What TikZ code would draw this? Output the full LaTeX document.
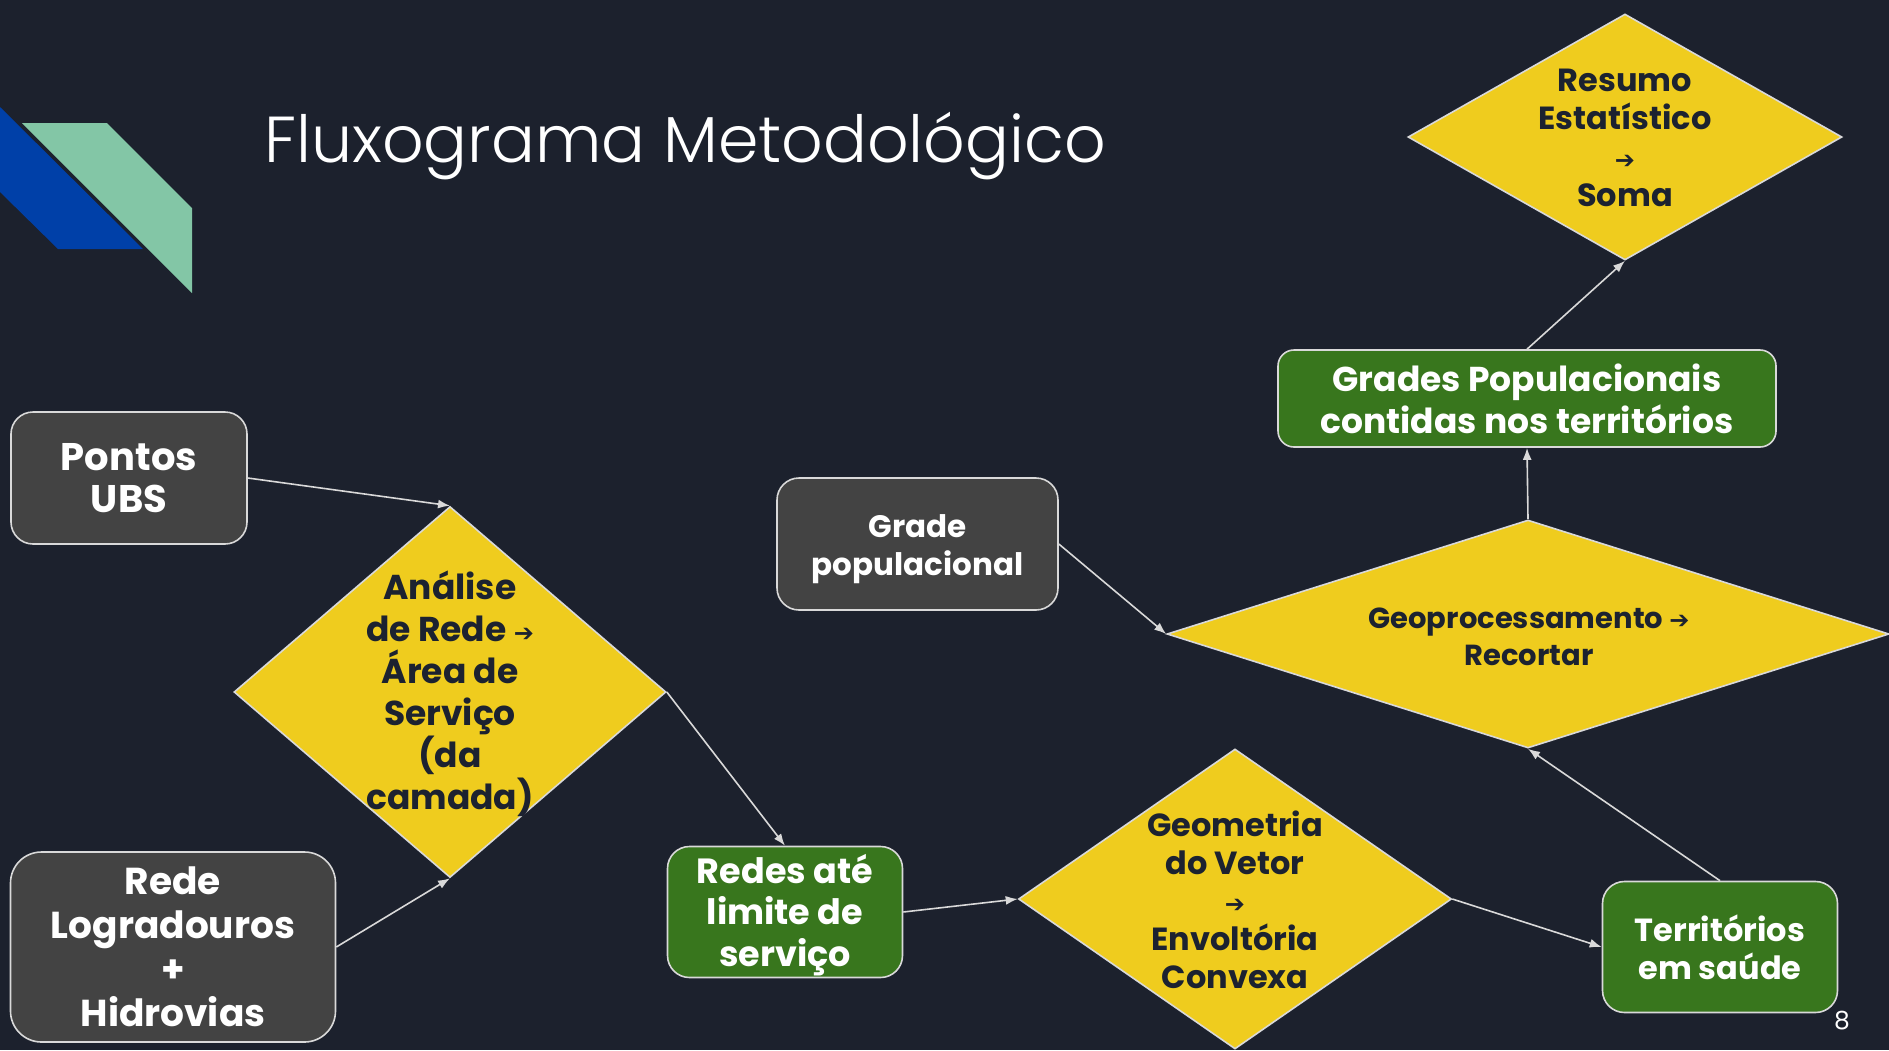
\documentclass[tikz,border=0pt]{standalone}
\usepackage{fontspec}
\usetikzlibrary{shapes.geometric,arrows.meta}
\setmainfont{Poppins}
\IfFontExistsTF{Poppins Light}{\newfontfamily\titlefont{Poppins Light}}{\newfontfamily\titlefont{Poppins}}
\newfontfamily\arrowfont{DejaVu Sans}
\newcommand\myarrow{{\arrowfont\fontsize{24}{24}\selectfont ➔}}
\definecolor{bg}{HTML}{1C212D}
\definecolor{yel}{HTML}{EFCC1E}
\definecolor{boxgreen}{HTML}{38761D}
\definecolor{boxgray}{HTML}{434343}
\definecolor{lineC}{HTML}{D9D9D9}
\definecolor{darktext}{HTML}{1C2230}
\definecolor{logoblue}{HTML}{0040A8}
\definecolor{logogreen}{HTML}{83C6A6}
\begin{document}
\begin{tikzpicture}[x=1pt,y=-1pt,
  box/.style={draw=lineC, line width=1.6pt, align=center, text=white, inner sep=0pt},
  graybox/.style={box, fill=boxgray},
  greenbox/.style={box, fill=boxgreen},
  dia/.style={diamond, draw=lineC, line width=1.6pt, fill=yel, inner sep=0pt},
  dtext/.style={align=center, text=darktext, inner sep=0pt},
  conn/.style={draw=lineC, line width=1.6pt, -{Latex[length=12pt,width=9pt]}}]
\fill[bg] (0,0) rectangle (1889,1050);
\useasboundingbox (0,0) rectangle (1889,1050);
% logo
\fill[logoblue] (0,107) -- (143,249) -- (58,249) -- (0,192) -- cycle;
\fill[logogreen] (22,123) -- (107,123) -- (192,208) -- (192,293) -- cycle;
% title
\node[anchor=base west, inner sep=0pt, text=white, font=\titlefont\fontsize{65}{65}\selectfont] (title) at (264,162) {Fluxograma Metodológico};
% boxes
\node[graybox, minimum width=236pt, minimum height=132pt, rounded corners=22pt, font=\bfseries\fontsize{38.5}{42}\selectfont] (pontos) at (129,478) {Pontos\\UBS};
\node[graybox, minimum width=325pt, minimum height=190pt, rounded corners=31pt, font=\bfseries\fontsize{37.5}{44}\selectfont] (rede) at (173,947) {Rede\\Logradouros\\+\\Hidrovias};
\node[greenbox, minimum width=235pt, minimum height=131pt, rounded corners=22pt] (redes) at (785,912) {};
\node[text=white, align=center, inner sep=0pt, font=\bfseries\fontsize{35}{41.5}\selectfont] (redesT) at (785,915) {Redes até\\limite de\\serviço};
\node[greenbox, minimum width=235pt, minimum height=131pt, rounded corners=22pt, font=\bfseries\fontsize{32}{38}\selectfont] (terr) at (1720,947) {Territórios\\em saúde};
\node[graybox, minimum width=281pt, minimum height=132pt, rounded corners=22pt] (grade) at (917.5,544) {};
\node[text=white, align=center, inner sep=0pt, font=\bfseries\fontsize{31}{38}\selectfont] (gradeT) at (917.5,549) {Grade\\populacional};
\node[greenbox, minimum width=498pt, minimum height=97pt, rounded corners=16pt, font=\bfseries\fontsize{34.5}{42}\selectfont] (gpop) at (1527,398.5) {Grades Populacionais\\contidas nos territórios};
% diamonds
\node[dia, minimum width=432pt, minimum height=371pt] (analise) at (450,692) {};
\node[dtext, font=\bfseries\fontsize{34.5}{42}\selectfont] (analiseT) at (450,694) {Análise\\de Rede \myarrow\\Área de\\Serviço\\(da\\camada)};
\node[dia, minimum width=433pt, minimum height=300pt] (geom) at (1235,899) {};
\node[dtext, font=\bfseries\fontsize{32}{38}\selectfont] (geomT) at (1235,900) {Geometria\\do Vetor\\\myarrow\\Envoltória\\Convexa};
\node[dia, minimum width=722pt, minimum height=228pt] (geo) at (1528,634) {};
\node[dtext, font=\bfseries\fontsize{29}{37}\selectfont] (geoT) at (1529,637) {Geoprocessamento \myarrow\\Recortar};
\node[dia, minimum width=434pt, minimum height=246pt] (resumo) at (1625,137) {};
\node[dtext, font=\bfseries\fontsize{32}{38.5}\selectfont] (resumoT) at (1625,138) {Resumo\\Estatístico\\\myarrow\\Soma};
% connectors
\draw[conn] (pontos.east) -- (analise.north);
\draw[conn] (rede.east) -- (analise.south);
\draw[conn] (analise.east) -- (redes.north);
\draw[conn] (redes.east) -- (geom.west);
\draw[conn] (geom.east) -- (terr.west);
\draw[conn] (terr.north) -- (geo.south);
\draw[conn] (grade.east) -- (geo.west);
\draw[conn] (geo.north) -- (gpop.south);
\draw[conn] (gpop.north) -- (resumo.south);
% page number
\node[inner sep=0pt, text=white, font=\fontsize{25}{25}\selectfont] (pnum) at (1842,1021) {8};
\end{tikzpicture}
\end{document}
